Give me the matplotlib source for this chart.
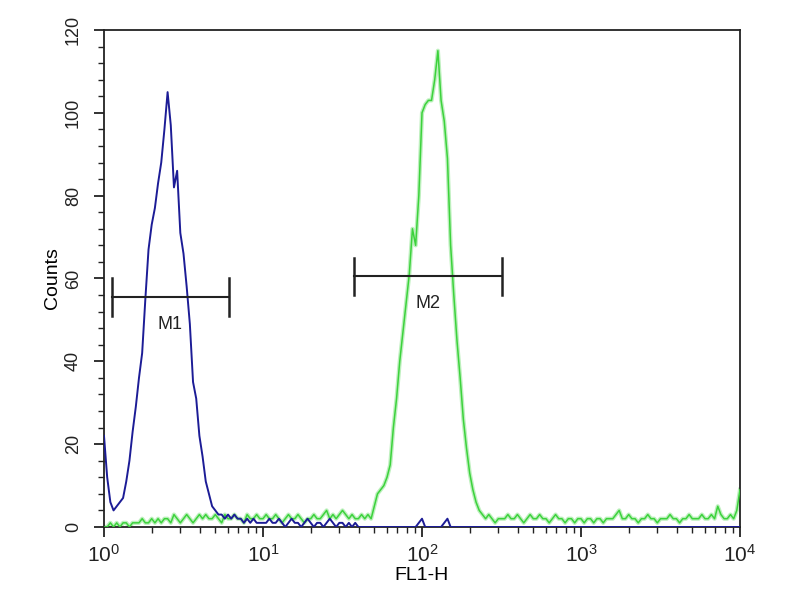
import numpy as np
import matplotlib
matplotlib.use("Agg")
import matplotlib.pyplot as plt
from matplotlib.ticker import MultipleLocator, LogLocator, NullFormatter

plt.rcParams['font.family'] = ['Liberation Sans', 'DejaVu Sans']
plt.rcParams['mathtext.fontset'] = 'custom'
plt.rcParams['mathtext.rm'] = 'Liberation Sans'
plt.rcParams['mathtext.it'] = 'Liberation Sans'

# channel grid in log10(FL1-H) units, 0..4 in steps of 0.02 (201 channels)
log_channels = np.linspace(0, 4, 201)

blue_counts = [
    22, 12, 6, 4, 5, 6, 7, 11, 16, 23,
    29, 36, 42, 55, 67, 73, 77, 83, 88, 96,
    105, 97, 82, 86, 71, 66, 58, 49, 35, 31,
    22, 17, 11, 8, 5, 4, 3, 3, 2, 3,
    2, 3, 2, 2, 1, 2, 1, 2, 1, 1,
    1, 1, 2, 1, 1, 2, 1, 0, 1, 2,
    1, 1, 0, 1, 2, 1, 0, 1, 1, 0,
    1, 2, 1, 0, 1, 1, 0, 1, 0, 1,
    0, 0, 0, 0, 0, 0, 0, 0, 0, 0,
    0, 0, 0, 0, 0, 0, 0, 0, 0, 1,
    2, 0, 0, 0, 0, 0, 0, 1, 2, 0,
    0, 0, 0, 0, 0, 0, 0, 0, 0, 0,
    0, 0, 0, 0, 0, 0, 0, 0, 0, 0,
    0, 0, 0, 0, 0, 0, 0, 0, 0, 0,
    0, 0, 0, 0, 0, 0, 0, 0, 0, 0,
    0, 0, 0, 0, 0, 0, 0, 0, 0, 0,
    0, 0, 0, 0, 0, 0, 0, 0, 0, 0,
    0, 0, 0, 0, 0, 0, 0, 0, 0, 0,
    0, 0, 0, 0, 0, 0, 0, 0, 0, 0,
    0, 0, 0, 0, 0, 0, 0, 0, 0, 0,
    0,
]

green_counts = [
    0, 0, 1, 0, 1, 0, 1, 1, 0, 1, 1, 1, 2, 1, 1, 2,
    1, 2, 1, 2, 2, 1, 3, 2, 1, 2, 3, 2, 1, 2, 3,
    2, 3, 2, 2, 3, 2, 1, 3, 2, 2, 3, 2, 2, 1, 3, 2, 2, 3, 2, 2,
    3, 2, 2, 3, 2, 1, 2, 3, 2, 2, 3, 2, 1, 2, 2, 3, 2, 2, 3, 4, 2, 3, 2, 3, 4, 3, 2, 3, 2,
    2, 3, 2, 3, 2, 5, 8, 9, 10, 12, 15, 24, 31, 40, 47, 54, 61, 72, 68, 80,
    100, 102, 103, 103, 108, 115, 103, 98, 89, 68, 56, 45, 36, 26, 19,
    13, 9, 6, 4, 3, 2, 3, 2, 1, 2, 2,
    2, 3, 2, 2, 3, 2, 1, 2, 3, 2,
    2, 3, 2, 2, 1, 2, 3, 2, 2, 1,
    2, 2, 1, 2, 2, 1, 2, 2, 1, 2,
    2, 1, 2, 2, 2, 3, 4, 2, 2, 3,
    2, 2, 1, 2, 2, 3, 2, 2, 1, 2,
    2, 2, 3, 2, 2, 1, 2, 2, 3, 2,
    2, 2, 3, 2, 2, 3, 2, 5, 3, 2,
    2, 3, 2, 4, 9,
]

# marker gates: label, left edge, right edge, bar level
marker_labels = ["M1", "M2"]
marker_left = [1.12, 37.3]
marker_right = [6.1, 318.0]
marker_y = [55.5, 60.5]

x_tick_values = [1, 10, 100, 1000, 10000]
x_tick_labels = [r"$10^0$", r"$10^1$", r"$10^2$", r"$10^3$", r"$10^4$"]
y_tick_values = [0, 20, 40, 60, 80, 100, 120]

fig = plt.figure(figsize=(8, 6), dpi=100)
ax = fig.add_axes([0.13, 0.1217, 0.795, 0.8283])

x = 10 ** log_channels
ax.plot(x, green_counts, color='#bdf0bd', lw=3.0, zorder=2)
ax.plot(x, green_counts, color='#3cd23c', lw=1.1, zorder=3)
ax.plot(x, blue_counts, color='#1c1c96', lw=1.4, zorder=4)

for lab, l, r, yv in zip(marker_labels, marker_left, marker_right, marker_y):
    ax.plot([l, r], [yv, yv], color='#222222', lw=1.5, zorder=5)
    ax.plot([l, l], [yv - 4.5, yv + 4.5], color='#222222', lw=1.8, zorder=5)
    ax.plot([r, r], [yv - 4.5, yv + 4.5], color='#222222', lw=1.8, zorder=5)
    xc = 10 ** ((np.log10(l) + np.log10(r)) / 2)
    ax.text(xc, yv - 6.5, lab, ha='center', va='center', fontsize=13,
            color='#222222', zorder=6)

ax.set_xscale('log')
ax.set_xlim(1, 10000)
ax.set_ylim(0, 120)
ax.set_xticks(x_tick_values)
ax.set_xticklabels(x_tick_labels)
ax.xaxis.set_minor_locator(LogLocator(base=10, subs=np.arange(2, 10)))
ax.xaxis.set_minor_formatter(NullFormatter())
ax.set_yticks(y_tick_values)
ax.yaxis.set_minor_locator(MultipleLocator(4))
for lbl in ax.get_yticklabels():
    lbl.set_rotation(90)
    lbl.set_va('center')

ax.tick_params(which='major', direction='out', length=7, width=1.3, labelsize=13, colors='#222222')
ax.tick_params(which='minor', direction='out', length=4, width=1.0, colors='#222222')
ax.tick_params(axis='x', which='major', pad=5, labelsize=15)
ax.tick_params(axis='y', which='major', pad=9)
for s in ax.spines.values():
    s.set_linewidth(1.3)
    s.set_color('#222222')

ax.set_xlabel("FL1-H", fontsize=14, labelpad=1)
ax.set_ylabel("Counts", fontsize=14, labelpad=3)

fig.savefig("out.png", dpi=100)
